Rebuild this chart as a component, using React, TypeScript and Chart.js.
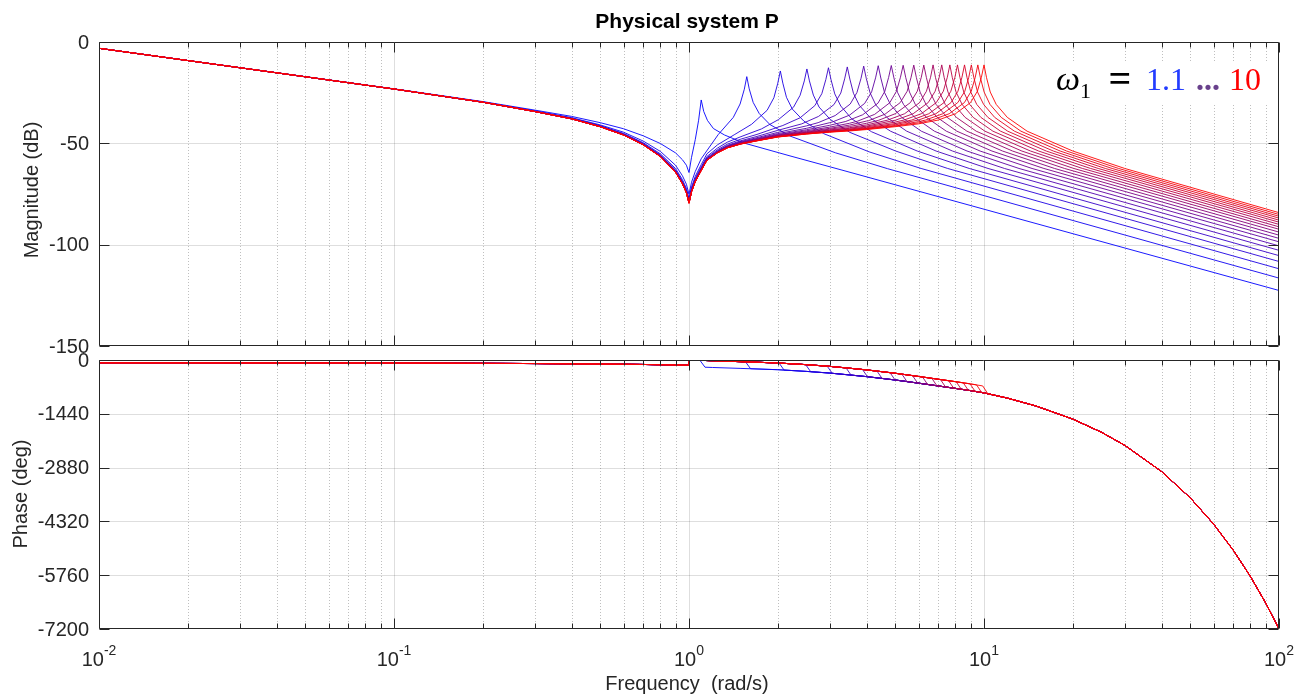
import React, { useEffect, useRef } from 'react';
import { Chart, registerables } from 'chart.js';

Chart.register(...registerables);

// ---------- data ----------
const omega1 = [1.1, 1.57, 2.04, 2.51, 2.97, 3.44, 3.91, 4.38, 4.85, 5.32, 5.78, 6.25, 6.72, 7.19, 7.66, 8.13, 8.59, 9.06, 9.53, 10];

// shared frequency grid for the low / notch part of every magnitude curve (rad/s)
const magPreFreq = [0.01, 0.1, 0.2, 0.3, 0.4, 0.5, 0.6, 0.7, 0.8, 0.9, 0.95, 0.98, 1, 1.02, 1.05, 1.1, 1.15, 1.25, 1.35, 1.5, 1.7, 2, 2.5, 3, 3.5, 4, 5, 6];

// magnitude (dB) on magPreFreq, one list per curve (each list covers the first N grid points)
const magPreDb: number[][] = [
  [-3.1, -23.1, -29.4, -33.6, -36.7, -39.8, -42.8, -46.3, -50.1, -54.7, -58.1, -60.8, -64.4, -56.9, -48.2],
  [-3.1, -23.2, -29.6, -34.0, -37.3, -40.9, -44.5, -48.9, -54.0, -60.8, -66.0, -70.2, -75.1, -69.2, -63.9, -57.6],
  [-3.1, -23.2, -29.6, -34.1, -37.6, -41.3, -45.1, -49.7, -55.2, -62.4, -67.9, -72.2, -77.2, -71.5, -66.3, -60.5, -55.2, -50.7],
  [-3.1, -23.2, -29.6, -34.2, -37.7, -41.4, -45.4, -50.1, -55.7, -63.1, -68.7, -73.1, -78.1, -72.4, -67.3, -61.6, -56.5, -52.3, -49.4, -46.7],
  [-3.1, -23.2, -29.7, -34.2, -37.7, -41.5, -45.5, -50.3, -56.0, -63.5, -69.1, -73.5, -78.6, -72.9, -67.8, -62.2, -57.1, -53.1, -50.4, -47.9, -45.6],
  [-3.1, -23.2, -29.7, -34.2, -37.8, -41.6, -45.6, -50.4, -56.1, -63.7, -69.3, -73.8, -78.8, -73.2, -68.2, -62.6, -57.5, -53.6, -51.0, -48.7, -46.6, -43.6],
  [-3.1, -23.2, -29.7, -34.2, -37.8, -41.7, -45.7, -50.5, -56.2, -63.8, -69.5, -73.9, -79.0, -73.4, -68.4, -62.8, -57.7, -53.9, -51.3, -49.1, -47.2, -44.6, -41.4],
  [-3.1, -23.2, -29.7, -34.3, -37.9, -41.7, -45.7, -50.6, -56.3, -63.9, -69.6, -74.0, -79.1, -73.5, -68.5, -62.9, -57.9, -54.1, -51.5, -49.4, -47.6, -45.2, -42.6, -39.8],
  [-3.1, -23.2, -29.7, -34.3, -37.9, -41.7, -45.8, -50.6, -56.4, -64.0, -69.7, -74.1, -79.2, -73.6, -68.6, -63.0, -58.0, -54.2, -51.7, -49.6, -47.9, -45.6, -43.3, -41.1],
  [-3.1, -23.2, -29.7, -34.3, -37.9, -41.8, -45.8, -50.7, -56.4, -64.0, -69.7, -74.2, -79.3, -73.7, -68.7, -63.1, -58.1, -54.3, -51.8, -49.8, -48.1, -45.9, -43.8, -42.0, -40.1],
  [-3.1, -23.2, -29.7, -34.3, -37.9, -41.8, -45.8, -50.7, -56.4, -64.1, -69.8, -74.2, -79.3, -73.7, -68.7, -63.2, -58.2, -54.4, -51.9, -49.9, -48.2, -46.1, -44.2, -42.6, -41.0, -39.0],
  [-3.1, -23.2, -29.7, -34.3, -37.9, -41.8, -45.8, -50.7, -56.5, -64.1, -69.8, -74.3, -79.4, -73.8, -68.8, -63.2, -58.2, -54.4, -52.0, -50.0, -48.3, -46.3, -44.5, -43.0, -41.7, -40.1],
  [-3.1, -23.2, -29.7, -34.3, -37.9, -41.8, -45.8, -50.7, -56.5, -64.1, -69.8, -74.3, -79.4, -73.8, -68.8, -63.3, -58.2, -54.5, -52.0, -50.1, -48.4, -46.4, -44.7, -43.4, -42.3, -40.9],
  [-3.1, -23.2, -29.7, -34.3, -37.9, -41.8, -45.8, -50.7, -56.5, -64.2, -69.9, -74.3, -79.4, -73.8, -68.8, -63.3, -58.3, -54.5, -52.1, -50.1, -48.5, -46.5, -44.9, -43.6, -42.6, -41.5, -38.6],
  [-3.1, -23.2, -29.7, -34.3, -37.9, -41.8, -45.9, -50.7, -56.5, -64.2, -69.9, -74.4, -79.5, -73.8, -68.8, -63.3, -58.3, -54.6, -52.1, -50.2, -48.6, -46.6, -45.0, -43.9, -43.0, -41.9, -39.5],
  [-3.1, -23.2, -29.7, -34.3, -37.9, -41.8, -45.9, -50.7, -56.5, -64.2, -69.9, -74.4, -79.5, -73.9, -68.9, -63.3, -58.3, -54.6, -52.2, -50.2, -48.6, -46.7, -45.1, -44.0, -43.2, -42.3, -40.2],
  [-3.1, -23.2, -29.7, -34.3, -37.9, -41.8, -45.9, -50.7, -56.5, -64.2, -69.9, -74.4, -79.5, -73.9, -68.9, -63.4, -58.3, -54.6, -52.2, -50.2, -48.7, -46.7, -45.2, -44.2, -43.4, -42.6, -40.7, -38.5],
  [-3.1, -23.2, -29.7, -34.3, -37.9, -41.8, -45.9, -50.7, -56.5, -64.2, -69.9, -74.4, -79.5, -73.9, -68.9, -63.4, -58.4, -54.6, -52.2, -50.3, -48.7, -46.8, -45.3, -44.3, -43.6, -42.8, -41.2, -39.3],
  [-3.1, -23.2, -29.7, -34.3, -37.9, -41.8, -45.9, -50.7, -56.5, -64.2, -69.9, -74.4, -79.5, -73.9, -68.9, -63.4, -58.4, -54.6, -52.2, -50.3, -48.7, -46.8, -45.4, -44.4, -43.7, -43.0, -41.5, -39.9],
  [-3.1, -23.2, -29.7, -34.3, -37.9, -41.8, -45.9, -50.8, -56.6, -64.3, -70.0, -74.5, -79.6, -73.9, -68.9, -63.4, -58.4, -54.7, -52.2, -50.3, -48.8, -46.9, -45.4, -44.5, -43.9, -43.2, -41.8, -40.4],
];

// resonance and high-frequency part of each magnitude curve: frequencies (rad/s)
const magResFreq: number[][] = [
  [1.078, 1.1, 1.122, 1.155, 1.21, 1.32, 1.54, 2.2, 3.3, 100],
  [1.256, 1.413, 1.49, 1.54, 1.57, 1.6, 1.65, 1.73, 1.88, 2.2, 3.14, 4.71, 100],
  [1.43, 1.63, 1.84, 1.94, 2.0, 2.04, 2.08, 2.14, 2.24, 2.45, 2.86, 4.08, 6.12, 100],
  [1.76, 2.01, 2.26, 2.38, 2.46, 2.51, 2.56, 2.64, 2.76, 3.01, 3.51, 5.02, 7.53, 100],
  [2.08, 2.38, 2.67, 2.82, 2.91, 2.97, 3.03, 3.12, 3.27, 3.56, 4.16, 5.94, 8.91, 100],
  [2.41, 2.75, 3.1, 3.27, 3.37, 3.44, 3.51, 3.61, 3.78, 4.13, 4.82, 6.88, 10.32, 100],
  [2.74, 3.13, 3.52, 3.71, 3.83, 3.91, 3.99, 4.11, 4.3, 4.69, 5.47, 7.82, 11.73, 100],
  [3.07, 3.5, 3.94, 4.16, 4.29, 4.38, 4.47, 4.6, 4.82, 5.26, 6.13, 8.76, 13.14, 100],
  [3.4, 3.88, 4.37, 4.61, 4.75, 4.85, 4.95, 5.09, 5.34, 5.82, 6.79, 9.7, 14.55, 100],
  [3.72, 4.26, 4.79, 5.05, 5.21, 5.32, 5.43, 5.59, 5.85, 6.38, 7.45, 10.64, 15.96, 100],
  [4.05, 4.62, 5.2, 5.49, 5.66, 5.78, 5.9, 6.07, 6.36, 6.94, 8.09, 11.56, 17.34, 100],
  [4.38, 5.0, 5.63, 5.94, 6.13, 6.25, 6.38, 6.56, 6.88, 7.5, 8.75, 12.5, 18.75, 100],
  [4.7, 5.38, 6.05, 6.38, 6.59, 6.72, 6.85, 7.06, 7.39, 8.06, 9.41, 13.44, 20.16, 100],
  [5.03, 5.75, 6.47, 6.83, 7.05, 7.19, 7.33, 7.55, 7.91, 8.63, 10.07, 14.38, 21.57, 100],
  [5.36, 6.13, 6.89, 7.28, 7.51, 7.66, 7.81, 8.04, 8.43, 9.19, 10.72, 15.32, 22.98, 100],
  [5.69, 6.5, 7.32, 7.72, 7.97, 8.13, 8.29, 8.54, 8.94, 9.76, 11.38, 16.26, 24.39, 100],
  [6.01, 6.87, 7.73, 8.16, 8.42, 8.59, 8.76, 9.02, 9.45, 10.31, 12.03, 17.18, 25.77, 100],
  [6.34, 7.25, 8.15, 8.61, 8.88, 9.06, 9.24, 9.51, 9.97, 10.87, 12.68, 18.12, 27.18, 100],
  [6.67, 7.62, 8.58, 9.05, 9.34, 9.53, 9.72, 10.01, 10.48, 11.44, 13.34, 19.06, 28.59, 100],
  [7, 8, 9, 9.5, 9.8, 10, 10.2, 10.5, 11, 12, 14, 20, 30, 100],
];

// resonance and high-frequency part of each magnitude curve: values (dB)
const magResDb: number[][] = [
  [-38.6, -28.6, -34.3, -38.7, -42.7, -45.9, -49.9, -56.2, -63.2, -122.6],
  [-45.7, -37.2, -30.6, -23.3, -17.1, -23.1, -29.8, -35.3, -40.7, -46.4, -54.7, -62.5, -116.5],
  [-45.6, -40.6, -33.7, -27.5, -20.3, -14.3, -20.3, -27.3, -33.1, -39.0, -45.2, -54.2, -62.4, -111.9],
  [-42.9, -38.3, -32.2, -26.3, -19.2, -13.3, -19.2, -26.2, -32.1, -38.2, -44.6, -53.8, -62.4, -108.3],
  [-41.2, -37.4, -31.4, -25.5, -18.5, -12.7, -18.6, -25.6, -31.6, -37.9, -44.3, -53.8, -62.4, -105.4],
  [-40.4, -36.7, -30.9, -25.2, -18.2, -12.3, -18.3, -25.3, -31.3, -37.6, -44.0, -53.8, -62.4, -102.8],
  [-39.8, -36.3, -30.6, -24.9, -17.9, -11.9, -18.0, -25.1, -31.1, -37.3, -44.0, -53.8, -62.4, -100.6],
  [-39.4, -36.1, -30.3, -24.6, -17.7, -11.7, -17.8, -24.9, -30.9, -37.2, -44.0, -53.8, -62.4, -98.6],
  [-39.2, -35.9, -30.2, -24.4, -17.5, -11.6, -17.7, -24.8, -30.9, -37.2, -44.0, -53.8, -62.4, -96.9],
  [-39.1, -35.7, -30.0, -24.3, -17.4, -11.5, -17.6, -24.7, -30.8, -37.2, -44.0, -53.8, -62.4, -95.3],
  [-38.9, -35.6, -29.9, -24.3, -17.4, -11.4, -17.6, -24.7, -30.8, -37.2, -44.0, -53.8, -62.4, -93.8],
  [-38.7, -35.4, -29.9, -24.3, -17.4, -11.4, -17.6, -24.7, -30.8, -37.2, -44.0, -53.8, -62.4, -92.4],
  [-38.6, -35.4, -29.9, -24.3, -17.4, -11.3, -17.6, -24.7, -30.8, -37.2, -44.0, -53.8, -62.4, -91.2],
  [-38.5, -35.4, -29.9, -24.3, -17.4, -11.3, -17.6, -24.7, -30.8, -37.2, -44.0, -53.8, -62.4, -90.0],
  [-38.5, -35.4, -29.9, -24.3, -17.4, -11.3, -17.6, -24.7, -30.8, -37.2, -44.0, -53.8, -62.4, -88.9],
  [-38.5, -35.4, -29.9, -24.3, -17.4, -11.3, -17.6, -24.7, -30.8, -37.2, -44.0, -53.8, -62.4, -87.9],
  [-38.5, -35.4, -29.9, -24.3, -17.4, -11.3, -17.6, -24.7, -30.8, -37.2, -44.0, -53.8, -62.4, -86.9],
  [-38.5, -35.4, -29.9, -24.3, -17.4, -11.3, -17.6, -24.7, -30.8, -37.2, -44.0, -53.8, -62.4, -86.0],
  [-38.5, -35.4, -29.9, -24.3, -17.4, -11.3, -17.6, -24.7, -30.8, -37.2, -44.0, -53.8, -62.4, -85.1],
  [-38.5, -35.4, -29.9, -24.3, -17.4, -11.3, -17.6, -24.7, -30.8, -37.2, -44.0, -53.8, -62.4, -84.2],
];

// phase: band before each resonance (deg)
const phaseUpperFreq = [0.01, 0.1, 0.3, 0.5, 0.7, 0.9, 0.995, 1.005, 1.1, 1.2, 1.5, 2, 2.5, 3, 3.5, 4, 5, 6, 7, 8, 9, 10];
const phaseUpper = [-75, -80, -95, -108, -120, -132, -140, 5, -10, -20, -45, -80, -125, -170, -220, -265, -355, -440, -515, -580, -640, -700];
// phase: band after each resonance (deg)
const phaseLowerFreq = [1.1, 1.2, 1.5, 2, 2.5, 3, 3.5, 4, 5, 6, 7, 8, 9, 10, 12, 15, 20, 25, 30, 40, 50, 60, 70, 80, 90, 100];
const phaseLower = [-190, -200, -225, -260, -305, -350, -400, -445, -535, -620, -695, -760, -820, -880, -1020, -1231, -1582, -1933, -2284, -2986, -3688, -4390, -5092, -5794, -6496, -7198];
// phase drop at each resonance: [start freq, end freq] and [start deg, end deg]
const phaseStepFreq: number[][] = [
  [1.089, 1.133], [1.554, 1.617], [2.02, 2.1], [2.485, 2.585], [2.94, 3.059],
  [3.406, 3.543], [3.871, 4.027], [4.336, 4.511], [4.8, 4.996], [5.267, 5.48],
  [5.722, 5.953], [6.188, 6.438], [6.653, 6.922], [7.118, 7.406], [7.583, 7.89],
  [8.049, 8.374], [8.504, 8.848], [8.969, 9.332], [9.435, 9.816], [9.9, 10.3],
];
const phaseStepDeg: number[][] = [
  [-8, -193], [-48.8, -233], [-81.8, -269], [-123.7, -312.7], [-164.6, -355.9],
  [-210.6, -403.9], [-253.4, -447.4], [-295.2, -491], [-337, -534.6], [-377.7, -575.8],
  [-416.4, -616], [-454.1, -652.9], [-489, -689.2], [-522.7, -721.4], [-552.9, -752.9],
  [-582.9, -782.4], [-610.2, -810.9], [-638.1, -839.9], [-666.1, -869], [-694, -901],
];

// axes
const xDecades = [0.01, 0.1, 1, 10, 100];
const xDecadeExp = ['-2', '-1', '0', '1', '2'];
const magTicks = [0, -50, -100, -150];
const phaseTicks = [0, -1440, -2880, -4320, -5760, -7200];

// ---------- drawing helpers ----------
const SANS = '"Liberation Sans", Arial, Helvetica, sans-serif';
const SERIF = '"Liberation Serif", "Times New Roman", serif';
const AXC = '#262626';

function curveColor(i: number, n: number) {
  const t = i / (n - 1);
  return `rgb(${Math.round(255 * t)},0,${Math.round(255 * (1 - t))})`;
}

type AxOpts = {
  yTicks: number[];
  yLabel: string;
  yLabelX: number;
  yLabelY: number;
  xLabels: boolean;
  title?: string;
  legend?: boolean;
};

function makeAxesPlugin(o: AxOpts) {
  return {
    id: 'bodeAxes',
    beforeDatasetsDraw(chart: any) {
      const { ctx, chartArea: a, scales } = chart;
      const xs = scales.x;
      const ys = scales.y;
      ctx.save();
      ctx.lineWidth = 1;
      ctx.strokeStyle = 'rgba(0,0,0,0.25)';
      ctx.setLineDash([1, 2]);
      for (let k = 0; k < xDecades.length - 1; k++) {
        for (let m = 2; m <= 9; m++) {
          const x = Math.round(xs.getPixelForValue(m * xDecades[k])) + 0.5;
          ctx.beginPath();
          ctx.moveTo(x, a.top);
          ctx.lineTo(x, a.bottom);
          ctx.stroke();
        }
      }
      ctx.setLineDash([]);
      ctx.strokeStyle = 'rgba(0,0,0,0.13)';
      for (let k = 1; k < xDecades.length - 1; k++) {
        const x = Math.round(xs.getPixelForValue(xDecades[k])) + 0.5;
        ctx.beginPath();
        ctx.moveTo(x, a.top);
        ctx.lineTo(x, a.bottom);
        ctx.stroke();
      }
      for (const t of o.yTicks) {
        const y = Math.round(ys.getPixelForValue(t)) + 0.5;
        if (y < a.top + 2 || y > a.bottom - 2) continue;
        ctx.beginPath();
        ctx.moveTo(a.left, y);
        ctx.lineTo(a.right, y);
        ctx.stroke();
      }
      ctx.restore();
    },
    afterDatasetsDraw(chart: any) {
      const { ctx, chartArea: a, scales } = chart;
      const xs = scales.x;
      const ys = scales.y;
      ctx.save();
      ctx.strokeStyle = AXC;
      ctx.lineWidth = 1;
      const L = Math.round(a.left) + 0.5;
      const R = Math.round(a.right) - 0.5;
      const T = Math.round(a.top) + 0.5;
      const B = Math.round(a.bottom) - 0.5;
      ctx.beginPath();
      ctx.rect(L, T, R - L, B - T);
      ctx.stroke();
      ctx.beginPath();
      for (let k = 0; k < xDecades.length; k++) {
        const x = Math.round(xs.getPixelForValue(xDecades[k])) + 0.5;
        ctx.moveTo(x, B); ctx.lineTo(x, B - 10);
        ctx.moveTo(x, T); ctx.lineTo(x, T + 10);
        if (k < xDecades.length - 1) {
          for (let m = 2; m <= 9; m++) {
            const xm = Math.round(xs.getPixelForValue(m * xDecades[k])) + 0.5;
            ctx.moveTo(xm, B); ctx.lineTo(xm, B - 5);
            ctx.moveTo(xm, T); ctx.lineTo(xm, T + 5);
          }
        }
      }
      for (const t of o.yTicks) {
        const y = Math.round(ys.getPixelForValue(t)) + 0.5;
        ctx.moveTo(L, y); ctx.lineTo(L + 10, y);
        ctx.moveTo(R, y); ctx.lineTo(R - 10, y);
      }
      ctx.stroke();

      ctx.fillStyle = AXC;
      ctx.font = `20px ${SANS}`;
      ctx.textAlign = 'right';
      ctx.textBaseline = 'middle';
      for (const t of o.yTicks) {
        ctx.fillText(String(t), a.left - 10, ys.getPixelForValue(t) + 1);
      }
      ctx.save();
      ctx.translate(o.yLabelX, o.yLabelY);
      ctx.rotate(-Math.PI / 2);
      ctx.textAlign = 'center';
      ctx.textBaseline = 'middle';
      ctx.font = `20px ${SANS}`;
      ctx.fillText(o.yLabel, 0, 0);
      ctx.restore();

      if (o.xLabels) {
        ctx.textBaseline = 'alphabetic';
        ctx.textAlign = 'left';
        for (let k = 0; k < xDecades.length; k++) {
          const cx = xs.getPixelForValue(xDecades[k]);
          ctx.font = `20px ${SANS}`;
          const wb = ctx.measureText('10').width;
          ctx.font = `14px ${SANS}`;
          const we = ctx.measureText(xDecadeExp[k]).width;
          const x0 = cx - (wb + we) / 2;
          ctx.font = `20px ${SANS}`;
          ctx.fillText('10', x0, 666);
          ctx.font = `14px ${SANS}`;
          ctx.fillText(xDecadeExp[k], x0 + wb, 655);
        }
        ctx.font = `20px ${SANS}`;
        ctx.textAlign = 'center';
        ctx.fillText('Frequency  (rad/s)', 687, 690);
      }

      if (o.title) {
        ctx.fillStyle = '#000';
        ctx.font = `bold 21px ${SANS}`;
        ctx.textAlign = 'center';
        ctx.textBaseline = 'alphabetic';
        ctx.fillText(o.title, 687, 28);
      }

      if (o.legend) {
        ctx.fillStyle = '#fff';
        ctx.fillRect(1050, 61, 222, 42);
        ctx.textBaseline = 'alphabetic';
        ctx.textAlign = 'left';
        ctx.fillStyle = '#000';
        ctx.font = `italic 34px ${SERIF}`;
        ctx.fillText('ω', 1056, 90);
        ctx.font = `22px ${SERIF}`;
        ctx.fillText('1', 1080, 98);
        ctx.font = `bold 40px ${SERIF}`;
        ctx.textAlign = 'center';
        ctx.fillText('=', 1120, 92);
        ctx.textAlign = 'left';
        ctx.font = `32px ${SERIF}`;
        ctx.fillStyle = 'rgb(35,60,255)';
        ctx.fillText('1.1', 1146, 90);
        ctx.fillStyle = 'rgb(105,65,140)';
        ctx.font = `bold 32px ${SERIF}`;
        ctx.fillText('...', 1196, 90);
        ctx.font = `32px ${SERIF}`;
        ctx.fillStyle = 'rgb(255,0,0)';
        ctx.fillText('10', 1229, 90);
      }
      ctx.restore();
    },
  };
}

function buildMagDatasets() {
  const n = omega1.length;
  return omega1.map((w, i) => {
    const pts: { x: number; y: number }[] = [];
    magPreDb[i].forEach((v, j) => pts.push({ x: magPreFreq[j], y: v }));
    magResFreq[i].forEach((f, j) => pts.push({ x: f, y: magResDb[i][j] }));
    return {
      label: `ω1 = ${w}`,
      data: pts,
      borderColor: curveColor(i, n),
      borderWidth: 0.9,
      pointRadius: 0,
      tension: 0,
      fill: false,
      order: n - i,
    };
  });
}

function buildPhaseDatasets() {
  const n = omega1.length;
  return omega1.map((w, i) => {
    const [fa, fb] = phaseStepFreq[i];
    const [pa, pb] = phaseStepDeg[i];
    const pts: { x: number; y: number }[] = [];
    phaseUpperFreq.forEach((f, j) => { if (f < fa) pts.push({ x: f, y: phaseUpper[j] }); });
    pts.push({ x: fa, y: pa });
    pts.push({ x: fb, y: pb });
    phaseLowerFreq.forEach((f, j) => { if (f > fb) pts.push({ x: f, y: phaseLower[j] }); });
    return {
      label: `ω1 = ${w}`,
      data: pts,
      borderColor: curveColor(i, n),
      borderWidth: 0.9,
      pointRadius: 0,
      tension: 0,
      fill: false,
      order: n - i,
    };
  });
}

function baseOptions(padding: any, yMin: number, yMax: number) {
  return {
    animation: false as const,
    responsive: false,
    devicePixelRatio: 1,
    events: [] as any[],
    layout: { padding },
    plugins: { legend: { display: false }, tooltip: { enabled: false }, title: { display: false } },
    scales: {
      x: { type: 'logarithmic' as const, min: 0.01, max: 100, display: false },
      y: { type: 'linear' as const, min: yMin, max: yMax, display: false },
    },
  };
}

export default function App() {
  const magRef = useRef<HTMLCanvasElement | null>(null);
  const phRef = useRef<HTMLCanvasElement | null>(null);

  useEffect(() => {
    const magChart = new Chart(magRef.current as HTMLCanvasElement, {
      type: 'line',
      data: { datasets: buildMagDatasets() as any },
      options: baseOptions({ left: 99, right: 17, top: 42, bottom: 349 }, -150, 0) as any,
      plugins: [makeAxesPlugin({ yTicks: magTicks, yLabel: 'Magnitude (dB)', yLabelX: 32, yLabelY: 190, xLabels: false, title: 'Physical system P', legend: true })],
    });
    const phChart = new Chart(phRef.current as HTMLCanvasElement, {
      type: 'line',
      data: { datasets: buildPhaseDatasets() as any },
      options: baseOptions({ left: 99, right: 17, top: 360, bottom: 66 }, -7200, 0) as any,
      plugins: [makeAxesPlugin({ yTicks: phaseTicks, yLabel: 'Phase (deg)', yLabelX: 21, yLabelY: 494, xLabels: true })],
    });
    return () => {
      magChart.destroy();
      phChart.destroy();
    };
  }, []);

  const cs: React.CSSProperties = { position: 'absolute', left: 0, top: 0, width: 1296, height: 695 };
  return (
    <div style={{ position: 'fixed', left: 0, top: 0, width: 1296, height: 695, background: '#fff', overflow: 'hidden' }}>
      <canvas ref={magRef} width={1296} height={695} style={cs} />
      <canvas ref={phRef} width={1296} height={695} style={cs} />
    </div>
  );
}
